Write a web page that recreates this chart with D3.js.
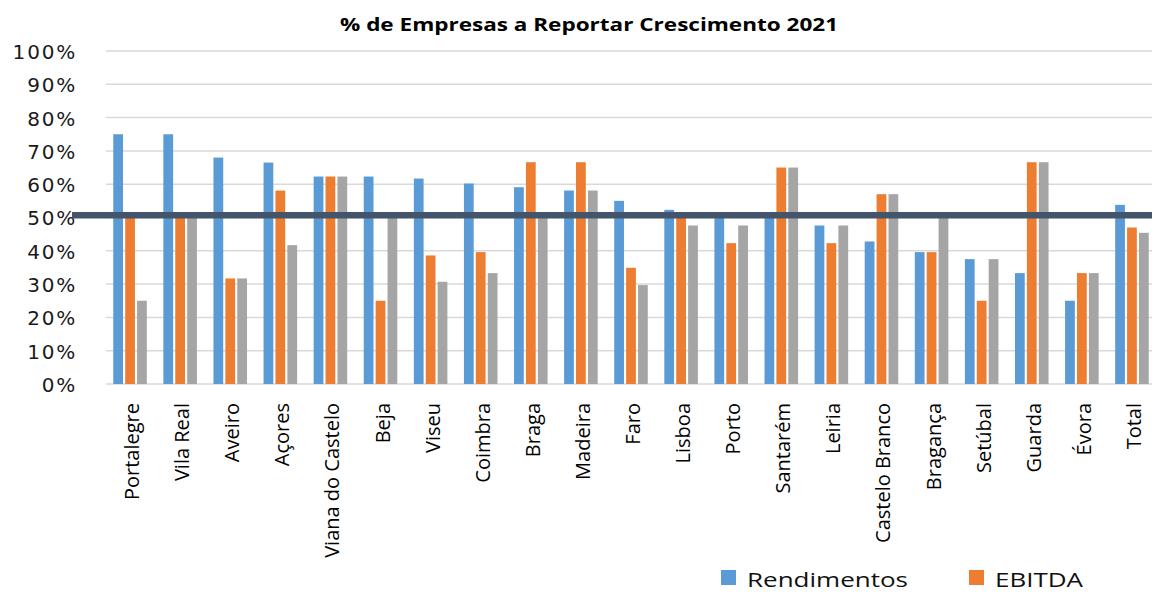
<!DOCTYPE html>
<html>
<head>
<meta charset="utf-8">
<script src="https://cdn.jsdelivr.net/npm/d3@7"></script>
<style>
	html, body { margin: 0; padding: 0; background: #fff; overflow: hidden; }
</style>
</head>
<body>
<div id="chart"></div>
<script>
let title = "% de Empresas a Reportar Crescimento 2021";

let regions = [
	"Portalegre", "Vila Real", "Aveiro", "Açores", "Viana do Castelo", "Beja",
	"Viseu", "Coimbra", "Braga", "Madeira", "Faro", "Lisboa", "Porto",
	"Santarém", "Leiria", "Castelo Branco", "Bragança", "Setúbal", "Guarda",
	"Évora", "Total"
];

let seriesNames = ["Rendimentos", "EBITDA", "Outro"];

let rendimentos = [
	0.75, 0.75, 0.68, 0.665, 0.623, 0.623, 0.617, 0.602, 0.591, 0.581, 0.55,
	0.523, 0.50, 0.50, 0.476, 0.428, 0.396, 0.375, 0.333, 0.25, 0.538
];
let ebitda = [
	0.50, 0.50, 0.317, 0.581, 0.623, 0.25, 0.386, 0.396, 0.666, 0.666, 0.349,
	0.50, 0.423, 0.65, 0.423, 0.57, 0.396, 0.25, 0.666, 0.333, 0.47
];
let terceira = [
	0.25, 0.50, 0.317, 0.417, 0.623, 0.50, 0.307, 0.333, 0.515, 0.581, 0.297,
	0.476, 0.476, 0.65, 0.476, 0.57, 0.50, 0.375, 0.666, 0.333, 0.454
];

let yTicks = [0, 0.1, 0.2, 0.3, 0.4, 0.5, 0.6, 0.7, 0.8, 0.9, 1];
let benchmark = 0.507;

let legendItems = ["Rendimentos", "EBITDA"];

var w = 1152,
	h = 592;

let colors = ["#5b9bd5", "#ed7d31", "#a5a5a5"];

let allSeries = [rendimentos, ebitda, terceira];

var svg = d3
	.select("#chart")
	.append("svg")
	.attr("width", w)
	.attr("height", h);

var x0 = d3
	.scaleBand()
	.domain(regions)
	.range([105, 1157])
	.paddingInner(0.33)
	.paddingOuter(0.165);

var x1 = d3
	.scaleBand()
	.domain(seriesNames)
	.range([0, x0.bandwidth()])
	.paddingInner(0.18);

var y = d3.scaleLinear().domain([0, 1]).range([384, 51]);

let color = d3.scaleOrdinal().domain(seriesNames).range(colors);

// gridlines
svg
	.append("g")
	.selectAll("line")
	.data(yTicks)
	.enter()
	.append("line")
	.attr("x1", 106)
	.attr("x2", w)
	.attr("y1", (d) => y(d))
	.attr("y2", (d) => y(d))
	.attr("stroke", "#d9d9d9")
	.attr("stroke-width", 1.5);

// y axis labels
var yAxis = d3
	.axisLeft(y)
	.tickValues(yTicks)
	.tickSize(0)
	.tickPadding(0)
	.tickFormat((d) => Math.round(d * 100) + "%");

svg
	.append("g")
	.attr("transform", "translate(77,1)")
	.call(yAxis)
	.call((g) => g.select(".domain").remove())
	.selectAll("text")
	.attr("font-family", "DejaVu Sans")
	.attr("font-size", 20)
	.attr("letter-spacing", 1.8)
	.attr("fill", "#1a1a1a");

// bars
let rows = regions.map((r, i) => ({
	region: r,
	values: seriesNames.map((s, j) => ({ key: s, value: allSeries[j][i] })),
}));

svg
	.append("g")
	.selectAll("g")
	.data(rows)
	.enter()
	.append("g")
	.attr("transform", (d) => "translate(" + x0(d.region) + ",0)")
	.selectAll("rect")
	.data((d) => d.values)
	.enter()
	.append("rect")
	.attr("x", (d) => x1(d.key))
	.attr("y", (d) => y(d.value))
	.attr("width", x1.bandwidth())
	.attr("height", (d) => y(0) - y(d.value))
	.attr("fill", (d) => color(d.key));

// x axis labels
var xAxis = d3.axisBottom(x0).tickSize(0).tickPadding(0);

svg
	.append("g")
	.attr("transform", "translate(2,403)")
	.call(xAxis)
	.call((g) => g.select(".domain").remove())
	.selectAll("text")
	.attr("transform", "rotate(-90)")
	.attr("text-anchor", "end")
	.attr("dy", "0.35em")
	.attr("y", 0)
	.attr("x", 0)
	.attr("font-family", "Open Sans")
	.attr("font-size", 20)
	.attr("fill", "#000");

// benchmark line
svg
	.append("line")
	.attr("x1", 72)
	.attr("x2", w)
	.attr("y1", y(benchmark))
	.attr("y2", y(benchmark))
	.attr("stroke", "#44546a")
	.attr("stroke-width", 6.5);

// title
svg
	.append("text")
	.attr("x", 340)
	.attr("y", 31)
	.attr("textLength", 498)
	.attr("lengthAdjust", "spacingAndGlyphs")
	.attr("font-family", "Open Sans")
	.attr("font-weight", "bold")
	.attr("font-size", 17)
	.attr("fill", "#000")
	.text(title);

// legend
let legendX = [721, 969];
let legendW = [161, 88];

let legend = svg
	.append("g")
	.selectAll("g")
	.data(legendItems)
	.enter()
	.append("g")
	.attr("transform", (d, i) => "translate(" + legendX[i] + ",569)");

legend
	.append("rect")
	.attr("y", 1)
	.attr("width", 15)
	.attr("height", 15)
	.attr("fill", (d) => color(d));

legend
	.append("text")
	.attr("x", 26)
	.attr("y", 18)
	.attr("textLength", (d, i) => legendW[i])
	.attr("lengthAdjust", "spacingAndGlyphs")
	.attr("font-family", "Open Sans")
	.attr("font-size", 20)
	.attr("fill", "#111")
	.text((d) => d);
</script>
</body>
</html>
